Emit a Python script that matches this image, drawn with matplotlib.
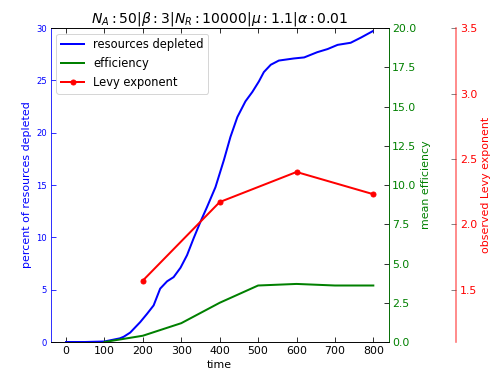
import numpy as np
import matplotlib
matplotlib.use('Agg')
import matplotlib.pyplot as plt

# resources depleted (percent) over time
t_res = [0, 50, 100, 120, 140, 150, 167, 180, 193, 211, 228, 245, 263, 280, 298,
         315, 332, 341, 350, 367, 389, 411, 428, 446, 467, 485, 502, 515, 533, 554, 593,
         620, 654, 681, 707, 741, 768, 798]
res = [0, 0, 0.05, 0.2, 0.35, 0.5, 0.9, 1.4, 1.9, 2.7, 3.5, 5.1, 5.8, 6.2, 7.1,
       8.3, 9.9, 10.7, 11.5, 12.9, 14.8, 17.4, 19.6, 21.5, 23.0, 23.9, 24.9, 25.8, 26.5, 26.9, 27.1,
       27.2, 27.7, 28.0, 28.4, 28.6, 29.1, 29.7]

# mean efficiency
t_eff = [100, 200, 300, 400, 500, 600, 700, 800]
eff = [0.0, 0.4, 1.2, 2.5, 3.6, 3.7, 3.6, 3.6]

# observed levy exponent
t_levy = [200, 400, 600, 800]
levy = [1.57, 2.17, 2.40, 2.23]

plt.rcParams['xtick.direction'] = 'in'
plt.rcParams['ytick.direction'] = 'in'
plt.rcParams['xtick.top'] = True

fig = plt.figure(figsize=(7, 375 / 72), dpi=72)
ax = fig.add_axes([0.1006, 0.088, 0.6706, 0.837])

l1, = ax.plot(t_res, res, color='b', lw=2, label='resources depleted')
ax.set_xlim(-40, 840)
ax.set_ylim(0, 30)
ax.set_xticks(range(0, 801, 100))
ax.tick_params(axis='x', labelsize=11, length=5)
ax.tick_params(axis='y', labelsize=8.5, colors='b', length=5)
ax.set_xlabel('time', fontsize=11)
ax.set_ylabel('percent of resources depleted', color='b', fontsize=11)
ax.spines['left'].set_color('b')

ax2 = ax.twinx()
l2, = ax2.plot(t_eff, eff, color='g', lw=2, label='efficiency')
ax2.set_ylim(0, 20)
ax2.set_yticks(np.arange(0, 20.1, 2.5))
ax2.set_yticklabels(['%.1f' % v for v in np.arange(0, 20.1, 2.5)])
ax2.tick_params(axis='y', labelsize=11, labelcolor='g', length=5)
ax2.set_ylabel('mean efficiency', color='g', fontsize=11)
ax2.spines['right'].set_color('g')
ax2.spines['left'].set_visible(False)

ax3 = ax.twinx()
ax3.spines['right'].set_position(('axes', 1.2))
for s in ['top', 'bottom', 'left']:
    ax3.spines[s].set_visible(False)
l3, = ax3.plot(t_levy, levy, color='r', lw=2, marker='o', ms=5, label='Levy exponent')
ax3.set_ylim(1.1, 3.5)
ax3.set_yticks([1.5, 2.0, 2.5, 3.0, 3.5])
ax3.tick_params(axis='y', labelsize=11, labelcolor='r', length=5, color='0.4')
ax3.set_ylabel('observed Levy exponent', color='r', fontsize=11)
ax3.spines['right'].set_color('r')
ax3.spines['right'].set_alpha(0.55)
ax3.spines['right'].set_linewidth(1.6)

ax.set_title(r'$N_A:50|\beta:3|N_R:10000|\mu:1.1|\alpha:0.01$', fontsize=14)

ax3.legend([l1, l2, l3], [l.get_label() for l in [l1, l2, l3]], loc='upper left', fontsize=11.5)

fig.savefig('out.png', dpi=72)
